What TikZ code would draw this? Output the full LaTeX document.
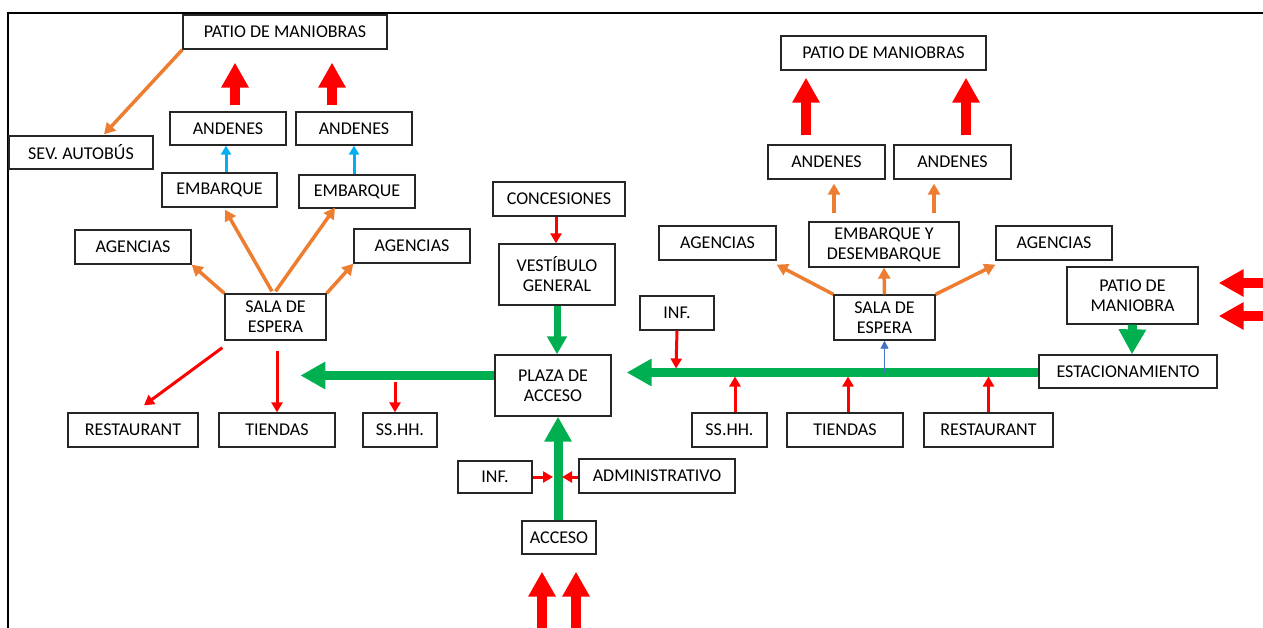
\documentclass[tikz,border=0pt]{standalone}
\usepackage{fontspec}
\setmainfont{Carlito}
\usetikzlibrary{arrows.meta,calc}

\definecolor{cRed}{HTML}{FF0000}
\definecolor{cGreen}{HTML}{00B050}
\definecolor{cOrange}{HTML}{ED7D31}
\definecolor{cCyan}{HTML}{00B0F0}
\definecolor{cBlue}{HTML}{4472C4}

\tikzset{
  area/.style={draw=black!85, line width=1.3pt, fill=white, inner sep=0pt,
    align=center, font=\fontsize{18}{20}\selectfont},
  flowred/.style={draw=cRed, line width=3pt, -{Triangle[width=11pt,length=10pt]}},
  flowor/.style={draw=cOrange, line width=3.5pt, -{Triangle[width=12pt,length=11pt]}},
  flowcyan/.style={draw=cCyan, line width=3pt, -{Triangle[width=10pt,length=9pt]}},
  flowblue/.style={draw=cBlue, line width=0.8pt, -{Triangle[width=8pt,length=8pt]}},
  bigred/.style={draw=cRed, line width=10pt, -{Triangle[width=26pt,length=25pt]}},
  biggreen/.style={draw=cGreen, line width=9pt, -{Triangle[width=26pt,length=25pt]}},
  midgreen/.style={draw=cGreen, line width=7pt, -{Triangle[width=19pt,length=18pt]}},
}

\begin{document}
\begin{tikzpicture}[x=1pt,y=-1pt]
\useasboundingbox (0,0) rectangle (1263,628);

% frame lines
\draw[line width=2pt, black] (1263,13) -- (8,13) -- (8,628);

% ---------- left wing ----------
\node[area, minimum width=204, minimum height=34] (pmL) at (285,32) {PATIO DE MANIOBRAS};
\node[area, minimum width=144, minimum height=33] (sev) at (81,152.5) {SEV. AUTOBÚS};
\node[area, minimum width=116, minimum height=33] (and1) at (228,128.5) {ANDENES};
\node[area, minimum width=116, minimum height=33] (and2) at (354,128.5) {ANDENES};
\node[area, minimum width=115, minimum height=34] (emb1) at (219.5,190) {EMBARQUE};
\node[area, minimum width=116, minimum height=33] (emb2) at (357,191.5) {EMBARQUE};
\node[area, minimum width=116, minimum height=34] (agL1) at (133,247) {AGENCIAS};
\node[area, minimum width=116, minimum height=34] (agL2) at (412,246) {AGENCIAS};
\node[area, minimum width=101, minimum height=46] (salaL) at (275.5,317) {SALA DE\\ESPERA};
\node[area, minimum width=130, minimum height=34] (restL) at (133,430) {RESTAURANT};
\node[area, minimum width=116, minimum height=34] (tiendL) at (277,430) {TIENDAS};
\node[area, minimum width=74, minimum height=34] (sshL) at (400,430) {SS.HH.};

% ---------- centre ----------
\node[area, minimum width=132, minimum height=34] (conc) at (559,199) {CONCESIONES};
\node[area, minimum width=116, minimum height=61] (vest) at (557,274.5) {VESTÍBULO\\GENERAL};
\node[area, minimum width=116, minimum height=61] (plaza) at (553,385.5) {PLAZA DE\\ACCESO};
\node[area, minimum width=74, minimum height=32] (infB) at (495,477) {INF.};
\node[area, minimum width=156, minimum height=34] (admin) at (657,476) {ADMINISTRATIVO};
\node[area, minimum width=74, minimum height=33] (acceso) at (559,537.5) {ACCESO};

% ---------- right wing ----------
\node[area, minimum width=205, minimum height=34] (pmR) at (883.5,53) {PATIO DE MANIOBRAS};
\node[area, minimum width=117, minimum height=34] (and3) at (826.5,162) {ANDENES};
\node[area, minimum width=117, minimum height=34] (and4) at (952.5,162) {ANDENES};
\node[area, minimum width=150, minimum height=45] (embR) at (884,244.5) {EMBARQUE Y\\DESEMBARQUE};
\node[area, minimum width=117, minimum height=34] (agR1) at (717.5,243) {AGENCIAS};
\node[area, minimum width=116, minimum height=34] (agR2) at (1054,243) {AGENCIAS};
\node[area, minimum width=101, minimum height=45] (salaR) at (884.5,317.5) {SALA DE\\ESPERA};
\node[area, minimum width=74, minimum height=34] (infR) at (677,313) {INF.};
\node[area, minimum width=131, minimum height=57] (pmo) at (1132.5,295.5) {PATIO DE\\MANIOBRA};
\node[area, minimum width=178, minimum height=33] (estac) at (1128,371.5) {ESTACIONAMIENTO};
\node[area, minimum width=75, minimum height=34] (sshR) at (729.5,430) {SS.HH.};
\node[area, minimum width=116, minimum height=34] (tiendR) at (845,430) {TIENDAS};
\node[area, minimum width=129, minimum height=34] (restR) at (988.5,430) {RESTAURANT};

% ---------- left wing connectors ----------
\draw[flowor] (pmL.south west) -- ([xshift=23pt,yshift=1pt]sev.north);
\draw[bigred] ([xshift=7pt,yshift=6pt]and1.north) -- ([xshift=-50pt,yshift=-13pt]pmL.south);
\draw[bigred] ([xshift=-22pt,yshift=6pt]and2.north) -- ([xshift=47pt,yshift=-13pt]pmL.south);
\draw[flowcyan] ([xshift=6.5pt]emb1.north) -- ([xshift=-2pt]and1.south);
\draw[flowcyan] ([xshift=-3pt]emb2.north) -- (and2.south);
\draw[flowor] (salaL.north west) -- (agL1.south east);
\draw[flowor] (salaL.north east) -- (agL2.south west);
\draw[flowor] ([xshift=-3.5pt,yshift=2pt]salaL.north) -- ([xshift=5.5pt,yshift=-2pt]emb1.south);
\draw[flowor] ([xshift=0pt,yshift=2pt]salaL.north) -- ([xshift=-22pt,yshift=1pt]emb2.south);
\draw[flowred] ([xshift=-2pt,yshift=-7pt]salaL.south west) -- ([xshift=11pt,yshift=7pt]restL.north);
\draw[flowred] ([xshift=1.5pt,yshift=-10pt]salaL.south) -- (tiendL.north);
\coordinate (mainL) at ($(plaza.west)+(0,-10)$);
\draw[biggreen] (mainL) -- ($(mainL)+(-194,0)$);
\draw[flowred] ($(sshL.north |- mainL)+(-5,6)$) -- ([xshift=-5pt]sshL.north);

% ---------- centre connectors ----------
\draw[flowred] ([xshift=-3pt]conc.south) -- ([xshift=-1pt]vest.north);
\draw[midgreen] (vest.south) -- ([xshift=4pt]plaza.north);
\draw[biggreen] ([xshift=-1pt]acceso.north) -- ([xshift=5pt]plaza.south);
\draw[flowred] (infB.east) -- ($(acceso.north |- infB.east)+(-6,0)$);
\draw[flowred] ([yshift=-1pt]admin.west) -- ($(acceso.north |- infB.east)+(3,0)$);
\coordinate (inA) at (542,640);
\coordinate (inB) at (576,640);
\draw[bigred] (inA) -- ([xshift=-17pt,yshift=-17pt]acceso.south);
\draw[bigred] (inB) -- ([xshift=17pt,yshift=-17pt]acceso.south);

% ---------- right wing connectors ----------
\coordinate (mainR) at ($(estac.west)+(0,1)$);
\draw[biggreen] (mainR) -- ($(plaza.east |- mainR)+(15,0)$);
\draw[flowred] (infR.south) -- ($(infR.south |- mainR)+(-1,-4)$);
\draw[flowred] ([xshift=5.5pt]sshR.north) -- ($(sshR.north |- mainR)+(5.5,4)$);
\draw[flowred] ([xshift=3pt]tiendR.north) -- ($(tiendR.north |- mainR)+(3,4)$);
\draw[flowred] (restR.north) -- ($(restR.north |- mainR)+(0,4)$);
\draw[flowblue] (salaR.south |- mainR) -- (salaR.south);
\draw[flowor] (salaR.north) -- (embR.south);
\draw[flowor] (salaR.north west) -- ([yshift=-4pt]agR1.south east);
\draw[flowor] (salaR.north east) -- ([yshift=-4pt]agR2.south west);
\draw[flowor] ([xshift=-50pt,yshift=8pt]embR.north) -- ([xshift=7.5pt,yshift=-4pt]and3.south);
\draw[flowor] ([xshift=50pt,yshift=8pt]embR.north) -- ([xshift=-18.5pt,yshift=-4pt]and4.south);
\draw[bigred] ([xshift=-20.5pt,yshift=9pt]and3.north) -- ([xshift=-77.5pt,yshift=-7pt]pmR.south);
\draw[bigred] ([xshift=13.5pt,yshift=9pt]and4.north) -- ([xshift=82.5pt,yshift=-7pt]pmR.south);
\draw[biggreen] (pmo.south) -- ([xshift=4pt]estac.north);
\coordinate (inC) at (1275,283);
\coordinate (inD) at (1275,316);
\draw[bigred] (inC) -- ([xshift=20pt,yshift=12.5pt]pmo.east);
\draw[bigred] (inD) -- ([xshift=20pt,yshift=-20.5pt]pmo.east);
\end{tikzpicture}
\end{document}
